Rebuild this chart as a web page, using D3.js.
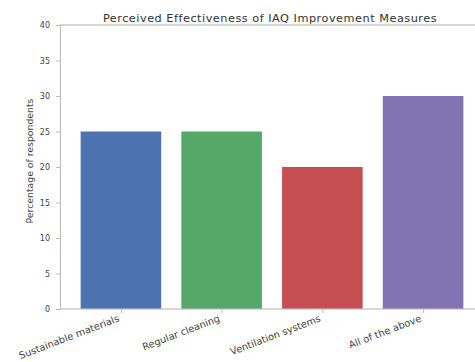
<!DOCTYPE html>
<html>
<head>
<meta charset="utf-8">
<script src="https://cdn.jsdelivr.net/npm/d3@7"></script>
<style>
  body { margin: 0; background: #fff; overflow: hidden; }
  text { font-family: "DejaVu Sans", sans-serif; }
</style>
</head>
<body>
<div id="chart"></div>
<script>
// Chart data
const categories = ["Sustainable materials", "Regular cleaning", "Ventilation systems", "All of the above"];
const values = [25, 25, 20, 30];
const barColors = ["#4c72b0", "#55a868", "#c44e52", "#8172b2"];
const yTicks = [0, 5, 10, 15, 20, 25, 30, 35, 40];

const W = 475, H = 362;
const margin = {top: 25, left: 60.5};
const plotW = 421;
const plotH = 284;

const svg = d3.select("#chart").append("svg")
    .attr("width", W)
    .attr("height", H);

const g = svg.append("g")
    .attr("transform", `translate(${margin.left},${margin.top})`);

// bars at 0..n-1, width 0.8, 5% margins like matplotlib
const x = d3.scaleLinear().domain([-0.6, 3.58]).range([0, plotW]);
const y = d3.scaleLinear().domain([0, 40]).range([plotH, 0]);
const barW = x(0.8) - x(0);

// Bars
g.selectAll("rect.bar")
    .data(values)
    .enter()
    .append("rect")
    .attr("class", "bar")
    .attr("x", (d, i) => x(i) - barW / 2)
    .attr("y", d => y(d))
    .attr("width", barW)
    .attr("height", d => y(0) - y(d))
    .attr("fill", (d, i) => barColors[i]);

// Frame
g.append("rect")
    .attr("x", 0).attr("y", 0)
    .attr("width", plotW).attr("height", plotH)
    .attr("fill", "none")
    .attr("stroke", "#bdbdbd")
    .attr("stroke-width", 1.2);

// Y axis
const yAxis = g.append("g")
    .call(d3.axisLeft(y).tickValues(yTicks).tickSize(4.5).tickPadding(6));
yAxis.select(".domain").remove();
yAxis.selectAll("line").attr("stroke", "#bdbdbd");
yAxis.selectAll("text")
    .attr("fill", "#444")
    .style("font-size", "8px");

// X axis
const xAxis = g.append("g")
    .attr("transform", `translate(0,${plotH})`)
    .call(d3.axisBottom(x).tickValues(d3.range(categories.length)).tickSize(4).tickFormat(""));
xAxis.select(".domain").remove();
xAxis.selectAll("line").attr("stroke", "#bdbdbd");

// Rotated x labels, right-aligned at tick
g.selectAll("text.xlabel")
    .data(categories)
    .enter()
    .append("text")
    .attr("class", "xlabel")
    .attr("transform", (d, i) => `translate(${x(i) - 1},${plotH + 12}) rotate(-21)`)
    .attr("text-anchor", "end")
    .attr("fill", "#444")
    .style("font-size", "9.8px")
    .text(d => d);

// Y label
svg.append("text")
    .attr("transform", `translate(33,${margin.top + 136}) rotate(-90)`)
    .attr("text-anchor", "middle")
    .attr("fill", "#444")
    .style("font-size", "9.3px")
    .text("Percentage of respondents");

// Title
svg.append("text")
    .attr("x", 270)
    .attr("y", 21.5)
    .attr("text-anchor", "middle")
    .attr("fill", "#333")
    .style("font-size", "11.3px")
    .style("letter-spacing", "0.5px")
    .text("Perceived Effectiveness of IAQ Improvement Measures");
</script>
</body>
</html>
